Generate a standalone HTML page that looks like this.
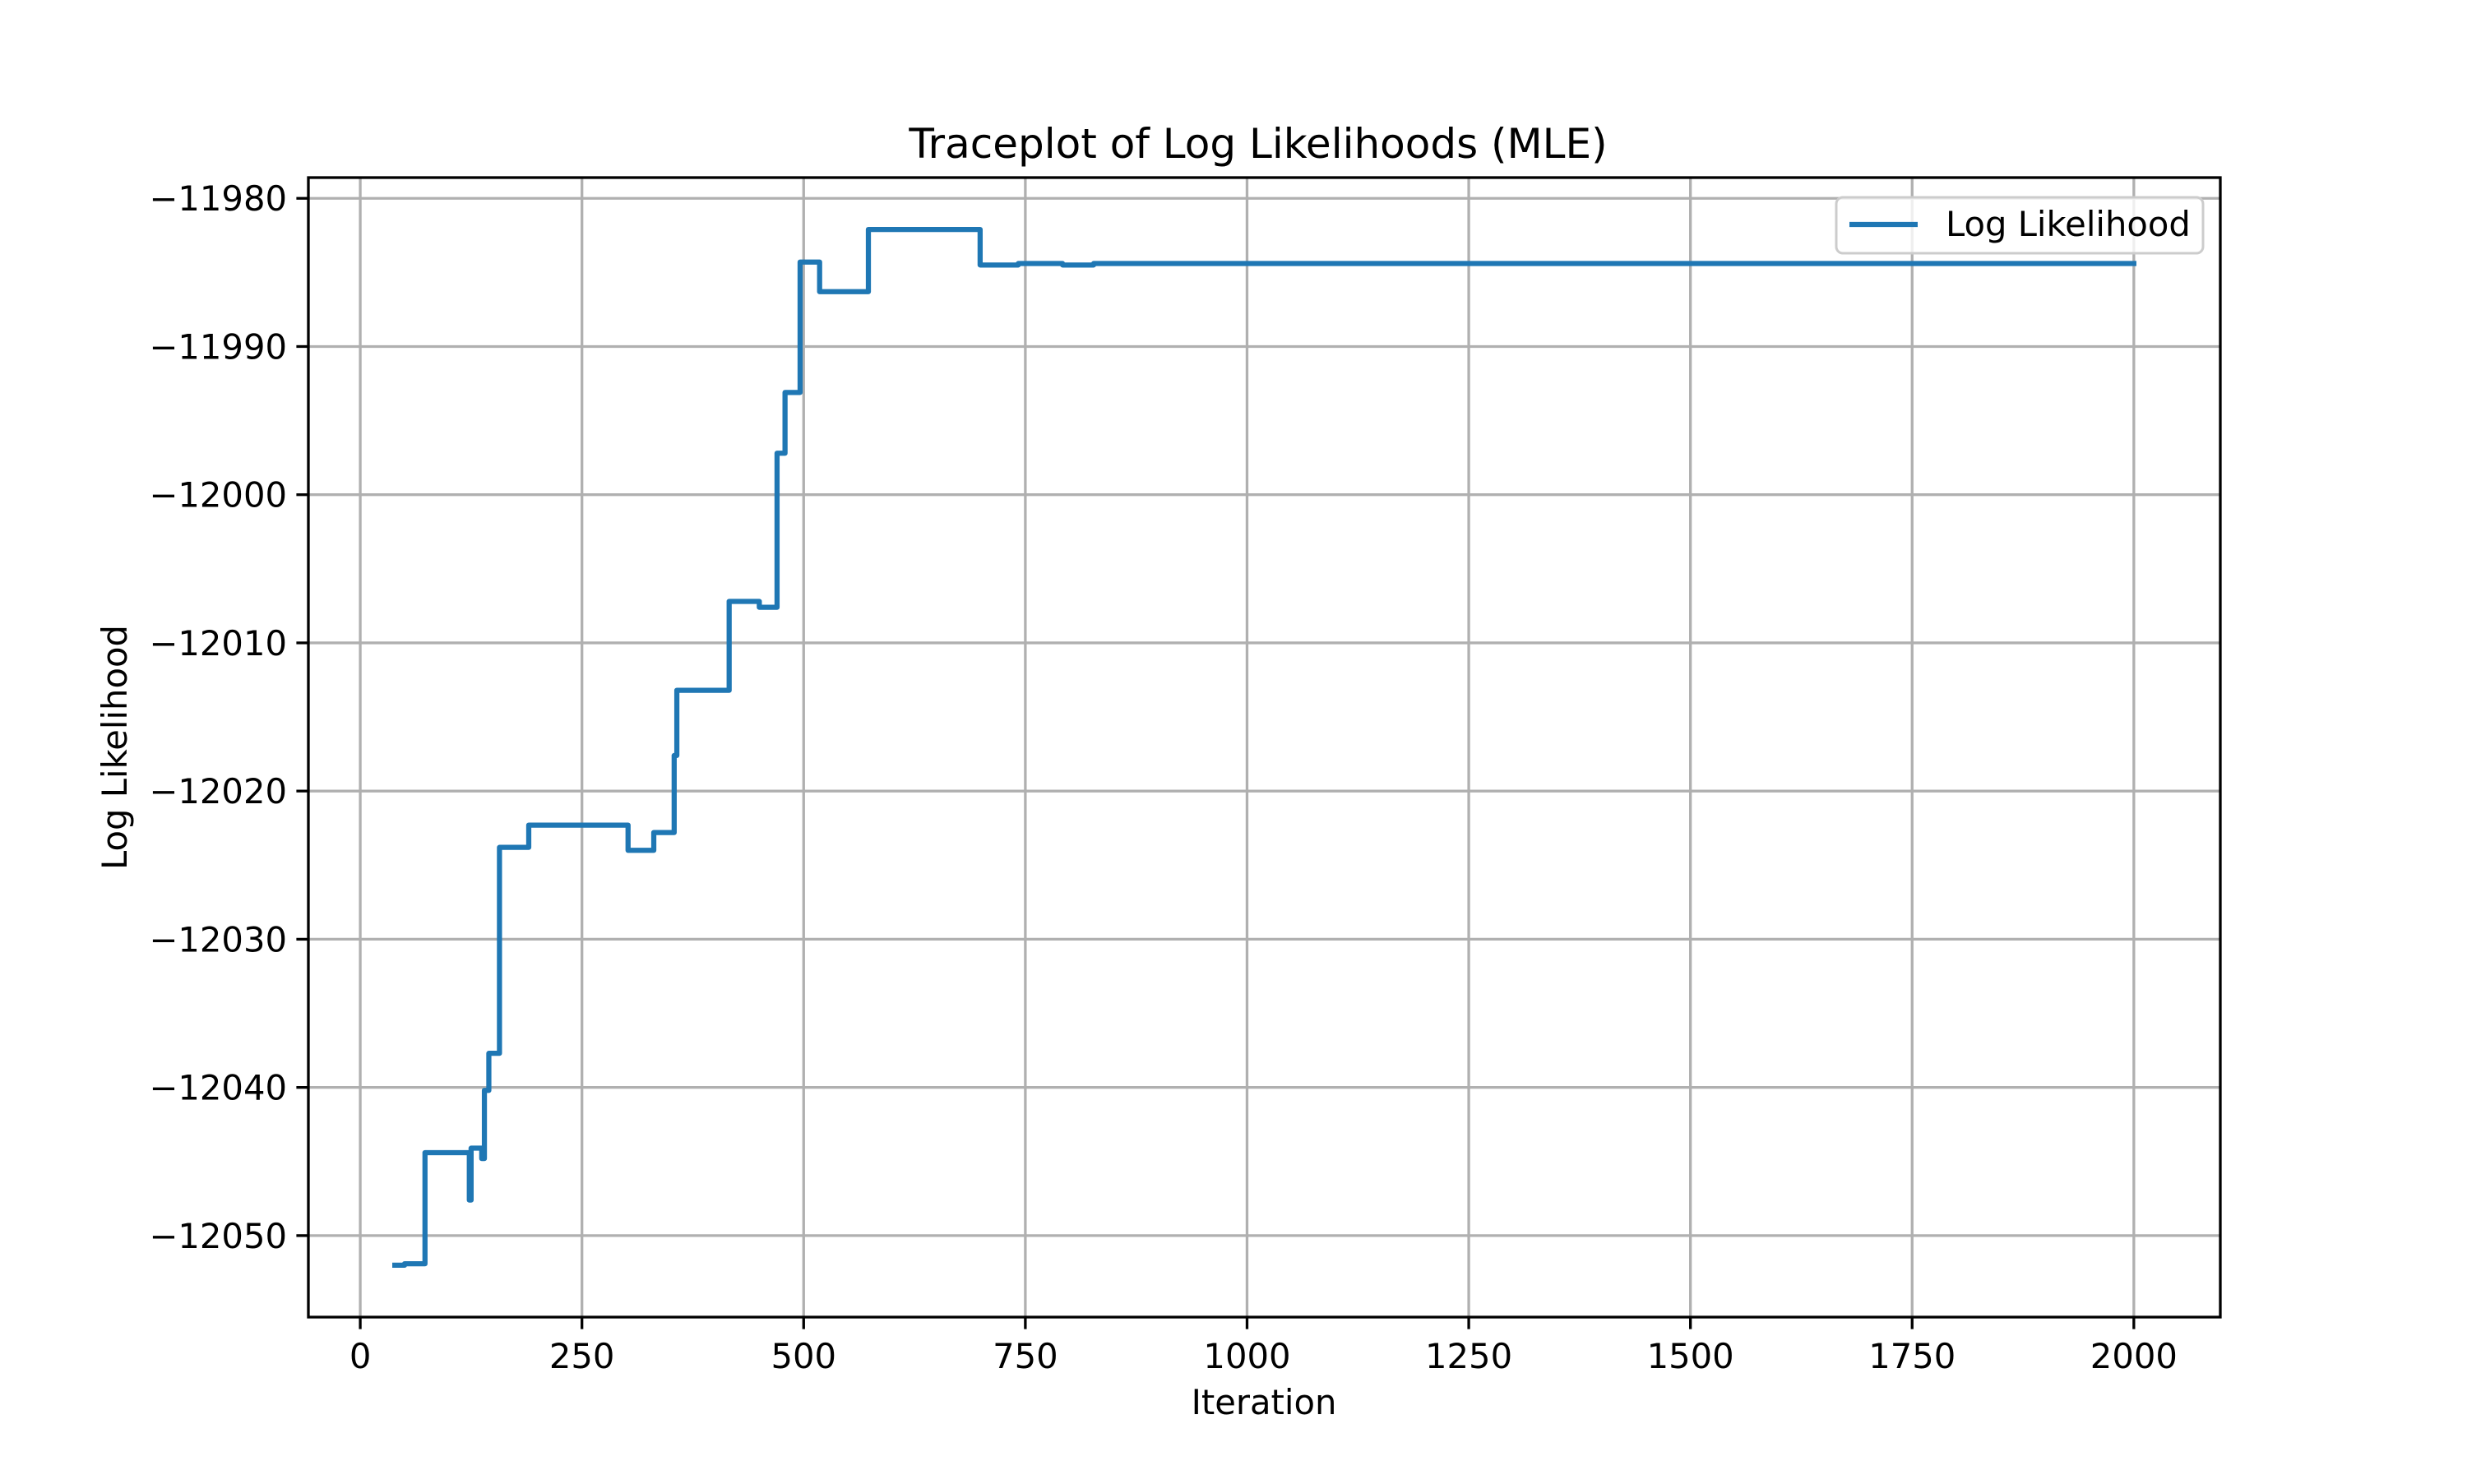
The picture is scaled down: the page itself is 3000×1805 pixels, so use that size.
<!DOCTYPE html>
<html><head><meta charset="utf-8"><style>
html,body{margin:0;padding:0;background:#fff;}
svg text{font-family:"DejaVu Sans","Liberation Sans",sans-serif;fill:#000;}
</style></head><body>
<svg id="chart" width="3000" height="1800" xmlns="http://www.w3.org/2000/svg">
<rect width="3000" height="1800" fill="#fff"/>
<g id="grid"></g>
<g id="series"></g>
<rect x="375" y="216" width="2325" height="1386" fill="none" stroke="#000" stroke-width="3.3"/>
<g id="ticks"></g>
<text x="1530" y="192" font-size="50" text-anchor="middle">Traceplot of Log Likelihoods (MLE)</text>
<text x="1537" y="1720" font-size="41.7" text-anchor="middle">Iteration</text>
<text transform="translate(154,909) rotate(-90)" font-size="41.7" text-anchor="middle">Log Likelihood</text>
<g>
<rect x="2233" y="240" width="446" height="68" rx="8" fill="#fff" fill-opacity="0.8" stroke="#ccc" stroke-width="3"/>
<line x1="2249" y1="273" x2="2332" y2="273" stroke="#1f77b4" stroke-width="6.25"/>
<text x="2366" y="287" font-size="41.7">Log Likelihood</text>
</g>
</svg>
<script>
const iterations = [39, 50, 73, 121, 123, 125, 135, 137, 140, 142, 145, 157, 190, 302, 331, 354, 355, 357, 416, 450, 470, 479, 496, 518, 573, 699, 742, 792, 827, 2000];
const logLik = [-12052.0, -12051.9, -12044.4, -12044.4, -12047.6, -12044.1, -12044.1, -12044.8, -12040.2, -12040.2, -12037.7, -12023.8, -12022.3, -12024.0, -12022.8, -12017.6, -12017.6, -12013.2, -12007.2, -12007.6, -11997.2, -11993.1, -11984.3, -11986.3, -11982.1, -11984.5, -11984.4, -11984.5, -11984.4, -11984.4];
const xTicks = [0, 250, 500, 750, 1000, 1250, 1500, 1750, 2000];
const yTicks = [-11980, -11990, -12000, -12010, -12020, -12030, -12040, -12050];

const L=375,R=2700,T=216,B=1602;
const xmin=-58.5,xmax=2097.5,ymin=-12055.5,ymax=-11978.6;
const sx=v=>L+(v-xmin)/(xmax-xmin)*(R-L);
const sy=v=>B-(v-ymin)/(ymax-ymin)*(B-T);
const NS="http://www.w3.org/2000/svg";
const grid=document.getElementById('grid'),ticks=document.getElementById('ticks'),series=document.getElementById('series');
function mk(tag,attrs,parent){const e=document.createElementNS(NS,tag);for(const k in attrs)e.setAttribute(k,attrs[k]);parent.appendChild(e);return e;}
xTicks.forEach(v=>{
  const x=sx(v);
  const g=mk('line',{x1:x,x2:x,y1:T,y2:B,stroke:'#b0b0b0','stroke-width':3.3},grid);
  
  
  const t=mk('line',{x1:x,x2:x,y1:B,y2:B+14.6,stroke:'#000','stroke-width':3.3},ticks);
  
  
  const l=mk('text',{x:x,y:B+62,'font-size':41.7,'text-anchor':'middle'},ticks);
  l.textContent=String(v);
  
  
});
yTicks.forEach(v=>{
  const y=sy(v);
  const g=mk('line',{x1:L,x2:R,y1:y,y2:y,stroke:'#b0b0b0','stroke-width':3.3},grid);
  
  
  const t=mk('line',{x1:L-14.6,x2:L,y1:y,y2:y,stroke:'#000','stroke-width':3.3},ticks);
  
  
  const l=mk('text',{x:L-26,y:y+15,'font-size':41.7,'text-anchor':'end'},ticks);
  l.textContent='\u2212'+String(Math.abs(v));
  
  
});
let d='M'+sx(iterations[0])+' '+sy(logLik[0]);
for(let i=1;i<iterations.length;i++){
  d+=' L'+sx(iterations[i])+' '+sy(logLik[i-1])+' L'+sx(iterations[i])+' '+sy(logLik[i]);
}
const p=mk('path',{d:d,fill:'none',stroke:'#1f77b4','stroke-width':6.25,'stroke-linejoin':'round','stroke-linecap':'square'},series);


</script>
</body></html>
